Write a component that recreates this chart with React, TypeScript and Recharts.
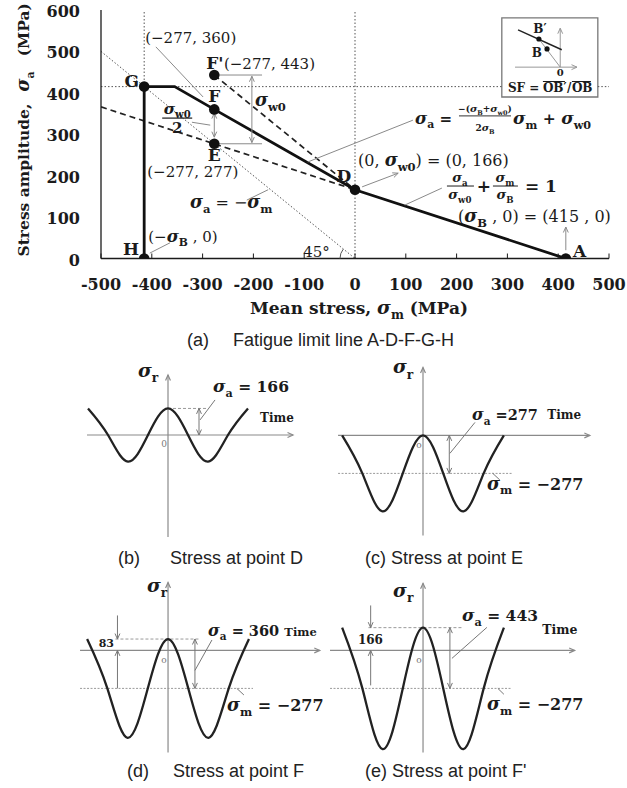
import React from 'react';
import {
  ComposedChart,
  LineChart,
  Line,
  Scatter,
  XAxis,
  YAxis,
  ReferenceLine,
  ReferenceDot,
  ReferenceArea,
} from 'recharts';

const SERIF = '"DejaVu Serif", "Liberation Serif", serif';
const SANS = '"Liberation Sans", Arial, sans-serif';
const INK = '#1b1b1b';
const GRAY = '#8a8a8a';

// (a) fatigue limit diagram, MPa
const xTicks = [-500, -400, -300, -200, -100, 0, 100, 200, 300, 400, 500];
const yTicks = [0, 100, 200, 300, 400, 500, 600];
const limitLine = [
  { x: 415, y: 0 },
  { x: 0, y: 166 },
  { x: -277, y: 360 },
  { x: -355, y: 415 },
  { x: -415, y: 415 },
  { x: -415, y: 0 },
];
const lineDE = [
  { x: -500, y: 366 },
  { x: 0, y: 166 },
];
const lineFpD = [
  { x: -277, y: 443 },
  { x: 0, y: 166 },
];
const keyPoints = [
  { x: 415, y: 0, name: 'A' },
  { x: 0, y: 166, name: 'D' },
  { x: -277, y: 360, name: 'F' },
  { x: -277, y: 277, name: 'E' },
  { x: -277, y: 443, name: "F'" },
  { x: -415, y: 415, name: 'G' },
  { x: -415, y: 0, name: 'H' },
];

// (b)-(e) stress vs time, sampled every quarter period
const phase = [-4, -3, -2, -1, 0, 1, 2, 3, 4];
const stressD = [166, 0, -166, 0, 166, 0, -166, 0, 166];
const stressE = [0, -277, -554, -277, 0, -277, -554, -277, 0];
const stressF = [83, -277, -637, -277, 83, -277, -637, -277, 83];
const stressFp = [166, -277, -720, -277, 166, -277, -720, -277, 166];
const wave = (vals: number[]) => phase.map((t, i) => ({ t, s: vals[i] }));

type Tok = string | [string, string];
type Heads = 'none' | 'end' | 'both';

function mathSpans(toks: Tok[], fs: number) {
  const out: React.ReactNode[] = [];
  const sh = fs * 0.3;
  let low = false;
  toks.forEach((tk, i) => {
    const back = low ? -sh : 0;
    if (typeof tk === 'string') {
      out.push(
        <tspan key={i} dy={back} fontSize={fs}>
          {tk}
        </tspan>
      );
      low = false;
    } else {
      out.push(
        <tspan key={i + 'a'} dy={back} fontSize={fs * 1.1} fontStyle="italic" fontWeight="bold">
          {tk[0]}
        </tspan>
      );
      out.push(
        <tspan key={i + 'b'} dy={sh} fontSize={fs * 0.72} fontWeight="bold">
          {tk[1]}
        </tspan>
      );
      low = true;
    }
  });
  return out;
}

const arrowShape = (heads: Heads, color: string, width: number, dash?: string) => (p: any) => {
  const { x1, y1, x2, y2 } = p;
  const head = (tx: number, ty: number, fx: number, fy: number) => {
    const a = Math.atan2(ty - fy, tx - fx);
    const L = 6;
    const w = 0.42;
    return (
      <path
        d={`M${tx - L * Math.cos(a - w)},${ty - L * Math.sin(a - w)}L${tx},${ty}L${tx - L * Math.cos(a + w)},${ty - L * Math.sin(a + w)}`}
        fill="none"
        stroke={color}
        strokeWidth={width}
      />
    );
  };
  return (
    <g>
      <line x1={x1} y1={y1} x2={x2} y2={y2} stroke={color} strokeWidth={width} strokeDasharray={dash} />
      {heads !== 'none' && head(x2, y2, x1, y1)}
      {heads === 'both' && head(x1, y1, x2, y2)}
    </g>
  );
};

function seg(
  key: string,
  a: [number, number],
  b: [number, number],
  o: { color?: string; width?: number; dash?: string; heads?: Heads } = {}
) {
  return (
    <ReferenceLine
      key={key}
      segment={[
        { x: a[0], y: a[1] },
        { x: b[0], y: b[1] },
      ]}
      ifOverflow="visible"
      shape={arrowShape(o.heads ?? 'none', o.color ?? GRAY, o.width ?? 1, o.dash)}
    />
  );
}

function note(
  key: string,
  x: number,
  y: number,
  toks: Tok[],
  o: { fs?: number; anchor?: 'start' | 'middle' | 'end'; weight?: string; color?: string; family?: string } = {}
) {
  const fs = o.fs ?? 15;
  return (
    <ReferenceDot
      key={key}
      x={x}
      y={y}
      r={0}
      ifOverflow="visible"
      shape={(p: any) => (
        <text
          x={p.cx}
          y={p.cy}
          fontSize={fs}
          fontFamily={o.family ?? SERIF}
          fontWeight={o.weight ?? 'bold'}
          textAnchor={o.anchor ?? 'start'}
          fill={o.color ?? INK}
        >
          {mathSpans(toks, fs)}
        </text>
      )}
    />
  );
}

function shapeAt(key: string, x: number, y: number, draw: (cx: number, cy: number) => React.ReactNode) {
  return (
    <ReferenceDot key={key} x={x} y={y} r={0} ifOverflow="visible" shape={(p: any) => <g>{draw(p.cx, p.cy)}</g>} />
  );
}

const txt = (x: number, y: number, toks: Tok[], fs: number, anchor: 'start' | 'middle' | 'end' = 'start') => (
  <text x={x} y={y} fontSize={fs} fontFamily={SERIF} fontWeight="bold" textAnchor={anchor} fill={INK}>
    {mathSpans(toks, fs)}
  </text>
);

// ---------- axes pieces for (a)
const BottomTick = (p: any) => (
  <g>
    <line x1={p.x} x2={p.x} y1={p.y} y2={p.y - 5} stroke={INK} />
    <text x={p.x} y={p.y + 31} textAnchor="middle" fontFamily={SERIF} fontWeight="bold" fontSize={16} fill={INK}>
      {String(p.payload.value)}
    </text>
  </g>
);
const TopTick = (p: any) => <line x1={p.x} x2={p.x} y1={p.y} y2={p.y + 5} stroke={INK} />;
const RightTick = (p: any) => <line x1={p.x} x2={p.x - 5} y1={p.y} y2={p.y} stroke={INK} />;
const LeftTick = (p: any) => (
  <text x={p.x - 21} y={p.y + 7} textAnchor="end" fontFamily={SERIF} fontWeight="bold" fontSize={16} fill={INK}>
    {String(p.payload.value)}
  </text>
);

const XTitle = (p: any) => {
  const vb = p.viewBox;
  return (
    <text
      x={vb.x + vb.width / 2 + 4}
      y={vb.y + 55}
      textAnchor="middle"
      fontFamily={SERIF}
      fontWeight="bold"
      fontSize={17}
      fill={INK}
    >
      <tspan>Mean stress, </tspan>
      {mathSpans([['σ', 'm'], ' (MPa)'], 17)}
    </text>
  );
};

const YTitle = (p: any) => {
  const vb = p.viewBox;
  const x = vb.x + 29;
  const y = vb.y + vb.height - 2;
  return (
    <text
      transform={`rotate(-90 ${x} ${y})`}
      x={x}
      y={y}
      fontFamily={SERIF}
      fontWeight="bold"
      fontSize={15.5}
      fill={INK}
    >
      <tspan>Stress amplitude,</tspan>
      <tspan dx={12} fontStyle="italic" fontSize={18}>
        σ
      </tspan>
      <tspan dy={4.5} fontSize={11}>
        a
      </tspan>
      <tspan dy={-4.5} dx={15}>
        (MPa)
      </tspan>
    </text>
  );
};

const KeyDot = (p: any) => <circle cx={p.cx} cy={p.cy} r={5.3} fill="#111" />;

const DOT = '1.5 2';

function LimitDiagram() {
  return (
    <div style={{ position: 'absolute', left: 0, top: 0 }}>
      <ComposedChart width={627} height={330} margin={{ top: 10, right: 18, bottom: 0, left: 0 }}>
        <XAxis
          dataKey="x"
          type="number"
          domain={[-500, 500]}
          ticks={xTicks}
          interval={0}
          allowDataOverflow
          height={71.5}
          tickSize={0}
          tickMargin={0}
          tickLine={false}
          axisLine={{ stroke: INK, strokeWidth: 1.3 }}
          tick={BottomTick}
          label={XTitle}
        />
        <XAxis
          xAxisId="top"
          orientation="top"
          dataKey="x"
          type="number"
          domain={[-500, 500]}
          ticks={xTicks}
          interval={0}
          allowDataOverflow
          height={0}
          tickSize={0}
          tickMargin={0}
          tickLine={false}
          axisLine={{ stroke: INK, strokeWidth: 1.3 }}
          tick={TopTick}
        />
        <YAxis
          dataKey="y"
          type="number"
          domain={[0, 600]}
          ticks={yTicks}
          interval={0}
          allowDataOverflow
          width={101}
          tickSize={0}
          tickMargin={0}
          tickLine={false}
          axisLine={{ stroke: INK, strokeWidth: 1.3 }}
          tick={LeftTick}
          label={YTitle}
        />
        <YAxis
          yAxisId="r"
          orientation="right"
          type="number"
          domain={[0, 600]}
          ticks={yTicks}
          interval={0}
          allowDataOverflow
          width={0}
          tickSize={0}
          tickMargin={0}
          tickLine={false}
          axisLine={{ stroke: INK, strokeWidth: 1.3 }}
          tick={RightTick}
        />

        {/* dotted guides */}
        <ReferenceLine x={-415} stroke="#555" strokeDasharray={DOT} />
        <ReferenceLine x={0} stroke="#555" strokeDasharray={DOT} />
        {seg('h415a', [-500, 415], [289, 415], { color: '#555', dash: DOT })}
        {seg('h415b', [478, 415], [500, 415], { color: '#555', dash: DOT })}
        {seg('neg', [-500, 500], [0, 0], { color: '#555', dash: DOT })}

        <Line data={lineDE} dataKey="y" type="linear" stroke="#222" strokeWidth={1.7} strokeDasharray="6 4" dot={false} isAnimationActive={false} />
        <Line data={lineFpD} dataKey="y" type="linear" stroke="#222" strokeWidth={1.7} strokeDasharray="6 4" dot={false} isAnimationActive={false} />
        <Line data={limitLine} dataKey="y" type="linear" stroke="#111" strokeWidth={2.8} dot={false} isAnimationActive={false} />

        {/* gray annotation lines */}
        {seg('g443', [-277, 443], [-183, 443])}
        {seg('g277', [-277, 277], [-183, 277])}
        {seg('sw0', [-203, 440], [-203, 280], { heads: 'both' })}
        {seg('sw02', [-277, 351], [-277, 293], { heads: 'both' })}
        {seg('lF', [-392, 511], [-299, 390])}
        {seg('lFr', [-321, 329], [-285, 322])}
        {seg('lneg', [-213, 141], [-171, 166])}
        {seg('lH', [-404, 13], [-364, 38])}
        {seg('lD', [14, 173], [85, 206], { heads: 'end' })}
        {seg('lSum', [171, 170], [98, 129])}
        {seg('lBig', [114, 334], [-93, 233])}
        {seg('lA', [415, 20], [415, 76], { heads: 'end' })}
        {shapeAt('arc45', 0, 0, (cx, cy) => (
          <path d={`M${cx - 15},${cy} A15,15 0 0 1 ${cx - 11.8},${cy - 9.3}`} fill="none" stroke="#555" strokeWidth={1} />
        ))}

        {/* point letters */}
        {note('G', -425, 414, ['G'], { fs: 17, anchor: 'end' })}
        {note('H', -425, 8, ['H'], { fs: 17, anchor: 'end' })}
        {note('F', -277, 377, ['F'], { fs: 17, anchor: 'middle' })}
        {note('E', -277, 235, ['E'], { fs: 17, anchor: 'middle' })}
        {note('Fp', -293, 458, ["F'"], { fs: 17 })}
        {note('D', -22, 185, ['D'], { fs: 17, anchor: 'middle' })}
        {note('A', 429, 4, ['A'], { fs: 17 })}

        {/* coordinates and relations */}
        {note('cF', -413, 520, ['(−277, 360)'], { weight: 'normal' })}
        {note('cFp', -258, 458, ['(−277, 443)'], { weight: 'normal' })}
        {note('cE', -409, 196, ['(−277, 277)'], { weight: 'normal' })}
        {note('cH', -407, 40, ['(−', ['σ', 'B'], ' , 0)'], { weight: 'normal' })}
        {note('neg45', -102, 4, ['45°'], { weight: 'normal' })}
        {note('negT', -325, 122, [['σ', 'a'], ' = −', ['σ', 'm']], { fs: 16, weight: 'normal' })}
        {note('w0', -197, 368, [['σ', 'w0']], { fs: 16 })}
        {note('cD', 6, 223, ['(0, ', ['σ', 'w0'], ') = (0, 166)'], { fs: 16, weight: 'normal' })}
        {note('cA', 203, 88, ['(', ['σ', 'B'], ' , 0) = (415 , 0)'], { fs: 16, weight: 'normal' })}
        {shapeAt('half', -350, 339, (cx, cy) => (
          <>
            {txt(cx, cy - 4, [['σ', 'w0']], 14, 'middle')}
            <line x1={cx - 15} x2={cx + 15} y1={cy} y2={cy} stroke={INK} strokeWidth={1.2} />
            {txt(cx, cy + 15, ['2'], 15, 'middle')}
          </>
        ))}
        {shapeAt('sum', 181, 175, (cx, cy) => (
          <>
            {txt(cx + 13, cy - 4, [['σ', 'a']], 12, 'middle')}
            <line x1={cx} x2={cx + 27} y1={cy} y2={cy} stroke={INK} strokeWidth={1} />
            {txt(cx + 13, cy + 13, [['σ', 'w0']], 12, 'middle')}
            {txt(cx + 37, cy + 6, ['+'], 17, 'middle')}
            {txt(cx + 58, cy - 4, [['σ', 'm']], 12, 'middle')}
            <line x1={cx + 46} x2={cx + 71} y1={cy} y2={cy} stroke={INK} strokeWidth={1} />
            {txt(cx + 58, cy + 13, [['σ', 'B']], 12, 'middle')}
            {txt(cx + 78, cy + 6, ['= 1'], 17)}
          </>
        ))}
        {shapeAt('big', 124, 325, (cx, cy) => (
          <>
            {txt(cx - 3, cy, [['σ', 'a'], ' ='], 15)}
            {txt(cx + 67, cy - 12, ['−(', ['σ', 'B'], '+', ['σ', 'w0'], ')'], 9, 'middle')}
            <line x1={cx + 41} x2={cx + 93} y1={cy - 8} y2={cy - 8} stroke={INK} strokeWidth={0.9} />
            {txt(cx + 67, cy + 7, ['2', ['σ', 'B']], 9, 'middle')}
            {txt(cx + 95, cy, [['σ', 'm'], ' + ', ['σ', 'w0']], 15.5)}
          </>
        ))}

        {/* safety factor inset */}
        <ReferenceArea x1={289} x2={478} y1={390} y2={581} fill="none" stroke="#777" strokeWidth={1.3} ifOverflow="visible" />
        {seg('iy', [404, 462], [404, 556], { color: '#999', heads: 'end' })}
        {seg('ix', [315, 462], [437, 462], { color: '#999', heads: 'end' })}
        {seg('iOB', [404, 462], [362, 530], { color: '#999' })}
        {seg('iL', [321, 552], [407, 504], { color: '#222', width: 1.4 })}
        <ReferenceDot x={362} y={530} r={2.6} fill="#111" stroke="none" ifOverflow="visible" />
        <ReferenceDot x={378} y={506} r={2.6} fill="#111" stroke="none" ifOverflow="visible" />
        {note('iBp', 364, 545, ['B′'], { fs: 12, anchor: 'middle' })}
        {note('iB', 368, 487, ['B'], { fs: 12, anchor: 'end' })}
        {note('i0', 404, 441, ['0'], { fs: 10, anchor: 'middle' })}
        {shapeAt('iSF', 301, 402, (cx, cy) => (
          <>
            {txt(cx, cy, ['SF ='], 12)}
            {txt(cx + 35, cy, ['OB′'], 12)}
            {txt(cx + 59, cy, ['/'], 12)}
            {txt(cx + 64, cy, ['OB'], 12)}
            <line x1={cx + 35} x2={cx + 57} y1={cy - 10.5} y2={cy - 10.5} stroke={INK} />
            <line x1={cx + 64} x2={cx + 83} y1={cy - 10.5} y2={cy - 10.5} stroke={INK} />
          </>
        ))}

        <Scatter data={keyPoints} dataKey="y" shape={KeyDot} isAnimationActive={false} />
      </ComposedChart>
    </div>
  );
}

function Panel(props: {
  left: number;
  top: number;
  width: number;
  height: number;
  xDomain: [number, number];
  yDomain: [number, number];
  data: { t: number; s: number }[];
  children?: React.ReactNode;
}) {
  const { left, top, width, height, xDomain, yDomain, data, children } = props;
  return (
    <div style={{ position: 'absolute', left, top }}>
      <LineChart width={width} height={height} data={data} margin={{ top: 0, right: 0, bottom: 0, left: 0 }}>
        <XAxis dataKey="t" type="number" domain={xDomain} allowDataOverflow hide height={0} />
        <YAxis type="number" domain={yDomain} allowDataOverflow hide width={0} />
        {children}
        <Line dataKey="s" type="natural" stroke="#222" strokeWidth={2.3} dot={false} isAnimationActive={false} />
      </LineChart>
    </div>
  );
}

function Caption(props: { left: number; cy: number; tag: string; gap: number; text: string }) {
  return (
    <div
      style={{
        position: 'absolute',
        left: props.left,
        top: props.cy - 10,
        lineHeight: '20px',
        fontFamily: SANS,
        fontSize: 18,
        color: '#222',
        whiteSpace: 'nowrap',
      }}
    >
      <span>{props.tag}</span>
      <span style={{ marginLeft: props.gap }}>{props.text}</span>
    </div>
  );
}

const AX = { color: '#8a8a8a', width: 1.2 };
const MEAN = { color: '#9a9a9a', dash: '2 1.5' };
const PEAK = { color: '#9a9a9a', dash: '3 2' };
const ARR = { color: '#777', heads: 'both' as Heads };
const SMALL = { fs: 9, anchor: 'middle' as const, weight: 'normal', color: '#777' };

export default function App() {
  return (
    <div style={{ position: 'absolute', left: 0, top: 0, width: 627, height: 788, background: '#fff', overflow: 'hidden' }}>
      <LimitDiagram />
      <Caption left={187} cy={340} tag="(a)" gap={24} text="Fatigue limit line A-D-F-G-H" />

      {/* (b) point D */}
      <Panel left={78} top={359} width={230} height={188} xDomain={[-4.5, 7]} yDomain={[-700, 475]} data={wave(stressD)}>
        {seg('ax', [-4.05, 0], [6.25, 0], { ...AX, heads: 'end' })}
        {seg('ay', [0, -637], [0, 375], { ...AX, heads: 'end' })}
        {seg('pk', [0, 166], [2, 166], PEAK)}
        {seg('da', [1.55, 0], [1.55, 166], ARR)}
        {seg('ld', [2.35, 219], [1.6, 94], { color: '#777' })}
        {note('sa', 2.25, 269, [['σ', 'a'], ' = 166'], { fs: 15.5 })}
        {note('tm', 4.6, 81, ['Time'], { fs: 12 })}
        {note('sr', -1.5, 362, [['σ', 'r']], { fs: 17 })}
        {note('o', -0.2, -75, ['0'], SMALL)}
      </Panel>

      {/* (c) point E */}
      <Panel left={332} top={350} width={273} height={191} xDomain={[-4.5, 9]} yDomain={[-770, 623]} data={wave(stressE)}>
        {seg('ax', [-4.2, 0], [8.25, 0], { ...AX, heads: 'end' })}
        {seg('ay', [0, -730], [0, 496], { ...AX, heads: 'end' })}
        {seg('mn', [-4.2, -277], [4.45, -277], MEAN)}
        {seg('da', [1.3, 0], [1.3, -277], ARR)}
        {seg('ld', [2.57, 95], [1.33, -131], { color: '#777' })}
        {seg('lm', [3.45, -277], [3.8, -325], { color: '#777' })}
        {note('sa', 2.42, 110, [['σ', 'a'], ' =277'], { fs: 14.5 })}
        {note('tm', 6.15, 122, ['Time'], { fs: 12 })}
        {note('sm', 3.16, -395, [['σ', 'm'], ' = −277'], { fs: 16 })}
        {note('sr', -1.48, 452, [['σ', 'r']], { fs: 17 })}
        {note('o', -0.2, -95, ['o'], SMALL)}
      </Panel>

      <Caption left={118} cy={558} tag="(b)" gap={30} text="Stress at point D" />
      <Caption left={365} cy={558} tag="(c)" gap={5} text="Stress at point E" />

      {/* (d) point F */}
      <Panel left={77} top={575} width={263} height={181} xDomain={[-4.5, 8.5]} yDomain={[-770, 550]} data={wave(stressF)}>
        {seg('ax', [-4.35, 0], [7.5, 0], { ...AX, heads: 'end' })}
        {seg('ay', [0, -745], [0, 496], { ...AX, heads: 'end' })}
        {seg('mn', [-4.35, -277], [4.2, -277], MEAN)}
        {seg('pk', [-2.6, 83], [1.6, 83], PEAK)}
        {seg('da', [1.33, 83], [1.33, -277], ARR)}
        {seg('s1', [-2.5, 255], [-2.5, 83], { color: '#777', heads: 'end' })}
        {seg('s2', [-2.5, -277], [-2.5, 0], { color: '#777', heads: 'end' })}
        {seg('ld', [2.17, 76], [1.33, -146], { color: '#777' })}
        {seg('lm', [3.4, -277], [3.75, -325], { color: '#777' })}
        {note('v', -2.67, 25, ['83'], { fs: 11, anchor: 'end' })}
        {note('sa', 1.98, 105, [['σ', 'a'], ' = 360'], { fs: 14.5 })}
        {note('tm', 5.75, 105, ['Time'], { fs: 11.5 })}
        {note('sm', 2.92, -442, [['σ', 'm'], ' = −277'], { fs: 16 })}
        {note('sr', -1.04, 426, [['σ', 'r']], { fs: 17 })}
        {note('o', -0.2, -92, ['o'], SMALL)}
      </Panel>

      {/* (e) point F' */}
      <Panel left={328} top={575} width={277} height={181} xDomain={[-4.7, 9]} yDomain={[-770, 550]} data={wave(stressFp)}>
        {seg('ax', [-4.6, 0], [7.5, 0], { ...AX, heads: 'end' })}
        {seg('ay', [0, -745], [0, 489], { ...AX, heads: 'end' })}
        {seg('mn', [-4.6, -277], [4.4, -277], MEAN)}
        {seg('pk', [-2.7, 166], [1.9, 166], PEAK)}
        {seg('da', [1.33, 166], [1.33, -277], ARR)}
        {seg('s1', [-2.59, 328], [-2.59, 166], { color: '#777', heads: 'end' })}
        {seg('s2', [-2.59, -255], [-2.59, 0], { color: '#777', heads: 'end' })}
        {seg('ld', [3.16, 168], [1.43, -58], { color: '#777' })}
        {seg('lm', [3.7, -277], [4.0, -320], { color: '#777' })}
        {note('v', -2.6, 44, ['166'], { fs: 12, anchor: 'middle' })}
        {note('sa', 1.93, 215, [['σ', 'a'], ' = 443'], { fs: 15.5 })}
        {note('tm', 5.9, 120, ['Time'], { fs: 12.5 })}
        {note('sm', 3.16, -435, [['σ', 'm'], ' = −277'], { fs: 16 })}
        {note('sr', -1.48, 390, [['σ', 'r']], { fs: 17 })}
        {note('o', -0.2, -92, ['o'], SMALL)}
      </Panel>

      <Caption left={127} cy={771} tag="(d)" gap={24} text="Stress at point F" />
      <Caption left={365} cy={771} tag="(e)" gap={5} text="Stress at point F'" />
    </div>
  );
}
